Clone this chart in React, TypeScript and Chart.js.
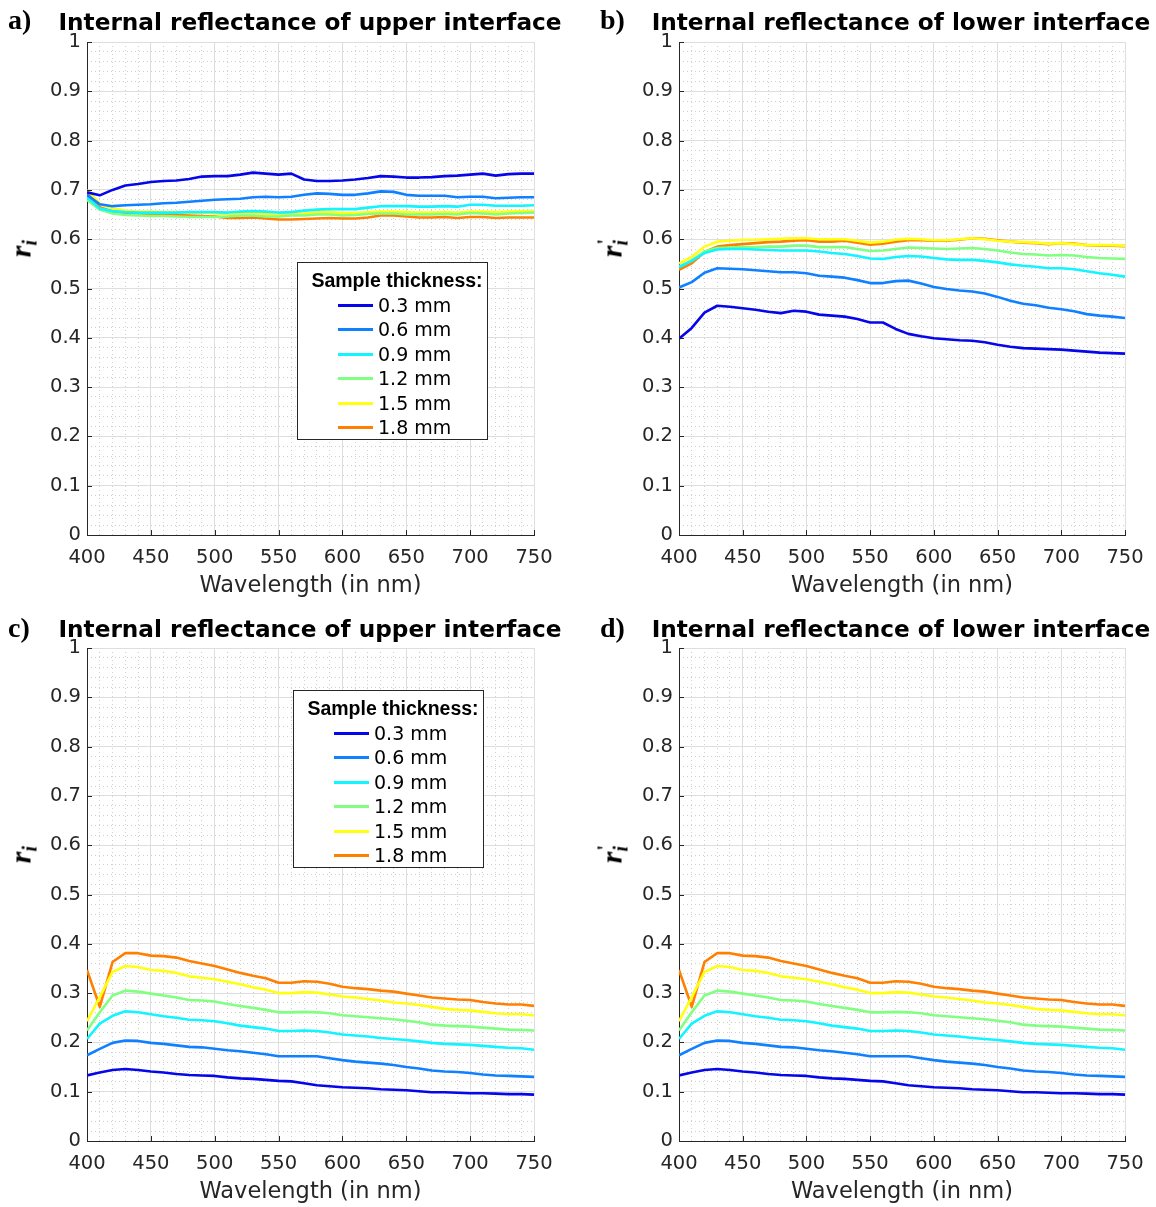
import React, { useEffect, useRef } from 'react';
import { Chart, registerables } from 'chart.js';

Chart.register(...registerables);

// ---------------- DATA ----------------
const WAVELENGTHS = [400, 410, 420, 430, 440, 450, 460, 470, 480, 490, 500, 510, 520, 530, 540, 550, 560, 570, 580, 590, 600, 610, 620, 630, 640, 650, 660, 670, 680, 690, 700, 710, 720, 730, 740, 750];
const THICKNESS_LABELS = ['0.3 mm', '0.6 mm', '0.9 mm', '1.2 mm', '1.5 mm', '1.8 mm'];
const X_TICKS = [400, 450, 500, 550, 600, 650, 700, 750];
const Y_TICKS = [0, 0.1, 0.2, 0.3, 0.4, 0.5, 0.6, 0.7, 0.8, 0.9, 1];

// a) upper interface (top row)
const A_03 = [0.695, 0.689, 0.700, 0.709, 0.712, 0.716, 0.718, 0.719, 0.722, 0.727, 0.728, 0.728, 0.731, 0.735, 0.733, 0.731, 0.733, 0.721, 0.718, 0.718, 0.719, 0.721, 0.724, 0.728, 0.727, 0.725, 0.725, 0.726, 0.728, 0.729, 0.731, 0.733, 0.729, 0.732, 0.733, 0.733];
const A_06 = [0.690, 0.671, 0.667, 0.669, 0.670, 0.671, 0.673, 0.674, 0.676, 0.678, 0.680, 0.681, 0.682, 0.685, 0.686, 0.685, 0.686, 0.690, 0.693, 0.692, 0.690, 0.690, 0.693, 0.697, 0.696, 0.690, 0.688, 0.688, 0.688, 0.685, 0.686, 0.686, 0.683, 0.684, 0.685, 0.685];
const A_09 = [0.685, 0.662, 0.657, 0.655, 0.654, 0.654, 0.654, 0.654, 0.655, 0.655, 0.655, 0.654, 0.656, 0.657, 0.656, 0.654, 0.655, 0.658, 0.660, 0.661, 0.661, 0.661, 0.664, 0.667, 0.667, 0.667, 0.666, 0.666, 0.667, 0.666, 0.670, 0.670, 0.668, 0.668, 0.668, 0.669];
const A_12 = [0.680, 0.660, 0.652, 0.649, 0.648, 0.647, 0.647, 0.646, 0.645, 0.645, 0.645, 0.646, 0.648, 0.648, 0.646, 0.646, 0.648, 0.648, 0.650, 0.650, 0.648, 0.649, 0.651, 0.652, 0.652, 0.650, 0.650, 0.650, 0.651, 0.650, 0.653, 0.652, 0.650, 0.652, 0.653, 0.654];
const A_15 = [0.700, 0.672, 0.662, 0.658, 0.656, 0.656, 0.655, 0.655, 0.654, 0.654, 0.652, 0.651, 0.652, 0.653, 0.651, 0.650, 0.651, 0.652, 0.654, 0.655, 0.653, 0.653, 0.655, 0.656, 0.656, 0.655, 0.654, 0.654, 0.655, 0.654, 0.656, 0.656, 0.655, 0.656, 0.657, 0.657];
const A_18 = [0.695, 0.665, 0.656, 0.653, 0.652, 0.651, 0.650, 0.649, 0.648, 0.647, 0.646, 0.643, 0.643, 0.644, 0.642, 0.640, 0.640, 0.641, 0.642, 0.643, 0.642, 0.642, 0.644, 0.648, 0.648, 0.646, 0.644, 0.644, 0.645, 0.643, 0.645, 0.645, 0.643, 0.644, 0.644, 0.644];

// b) lower interface (top row)
const B_03 = [0.398, 0.420, 0.451, 0.465, 0.463, 0.460, 0.457, 0.453, 0.450, 0.455, 0.453, 0.447, 0.445, 0.443, 0.438, 0.431, 0.431, 0.418, 0.408, 0.403, 0.399, 0.397, 0.395, 0.394, 0.391, 0.386, 0.382, 0.379, 0.378, 0.377, 0.376, 0.374, 0.372, 0.370, 0.369, 0.368];
const B_06 = [0.502, 0.513, 0.532, 0.541, 0.540, 0.539, 0.537, 0.535, 0.533, 0.533, 0.531, 0.526, 0.524, 0.522, 0.517, 0.511, 0.511, 0.515, 0.516, 0.510, 0.503, 0.499, 0.496, 0.494, 0.490, 0.483, 0.475, 0.469, 0.466, 0.461, 0.458, 0.454, 0.448, 0.445, 0.443, 0.440];
const B_09 = [0.543, 0.556, 0.572, 0.579, 0.580, 0.580, 0.579, 0.578, 0.577, 0.577, 0.577, 0.575, 0.572, 0.570, 0.566, 0.561, 0.560, 0.564, 0.566, 0.565, 0.562, 0.559, 0.558, 0.558, 0.556, 0.553, 0.549, 0.546, 0.544, 0.541, 0.541, 0.539, 0.535, 0.531, 0.528, 0.524];
const B_12 = [0.545, 0.557, 0.575, 0.582, 0.583, 0.584, 0.584, 0.585, 0.585, 0.587, 0.587, 0.584, 0.584, 0.584, 0.580, 0.576, 0.577, 0.580, 0.583, 0.582, 0.581, 0.580, 0.581, 0.582, 0.580, 0.577, 0.573, 0.570, 0.569, 0.567, 0.568, 0.567, 0.564, 0.562, 0.561, 0.560];
const B_15 = [0.551, 0.564, 0.585, 0.595, 0.597, 0.599, 0.599, 0.600, 0.601, 0.602, 0.602, 0.600, 0.600, 0.600, 0.597, 0.593, 0.595, 0.599, 0.601, 0.600, 0.598, 0.598, 0.600, 0.602, 0.600, 0.597, 0.595, 0.594, 0.593, 0.591, 0.592, 0.590, 0.588, 0.588, 0.588, 0.587];
const B_18 = [0.538, 0.551, 0.574, 0.585, 0.588, 0.590, 0.592, 0.594, 0.595, 0.597, 0.598, 0.595, 0.595, 0.597, 0.593, 0.589, 0.591, 0.595, 0.598, 0.598, 0.597, 0.597, 0.599, 0.602, 0.601, 0.598, 0.595, 0.593, 0.592, 0.590, 0.592, 0.591, 0.588, 0.587, 0.587, 0.586];

// c) upper interface (bottom row)
const C_03 = [0.133, 0.139, 0.144, 0.146, 0.144, 0.141, 0.139, 0.136, 0.134, 0.133, 0.132, 0.129, 0.127, 0.126, 0.124, 0.122, 0.121, 0.117, 0.113, 0.111, 0.109, 0.108, 0.107, 0.105, 0.104, 0.103, 0.101, 0.099, 0.099, 0.098, 0.097, 0.097, 0.096, 0.095, 0.095, 0.094];
const C_06 = [0.174, 0.187, 0.199, 0.204, 0.203, 0.199, 0.197, 0.194, 0.191, 0.190, 0.187, 0.184, 0.182, 0.179, 0.176, 0.172, 0.172, 0.172, 0.172, 0.168, 0.164, 0.161, 0.159, 0.157, 0.154, 0.150, 0.147, 0.143, 0.141, 0.140, 0.138, 0.135, 0.133, 0.132, 0.131, 0.130];
const C_09 = [0.207, 0.238, 0.254, 0.263, 0.261, 0.257, 0.253, 0.250, 0.246, 0.245, 0.243, 0.239, 0.234, 0.231, 0.228, 0.223, 0.223, 0.224, 0.223, 0.220, 0.216, 0.214, 0.212, 0.209, 0.207, 0.205, 0.202, 0.199, 0.197, 0.196, 0.195, 0.193, 0.191, 0.189, 0.188, 0.185];
const C_12 = [0.224, 0.261, 0.295, 0.305, 0.303, 0.299, 0.295, 0.291, 0.286, 0.285, 0.283, 0.278, 0.274, 0.270, 0.266, 0.261, 0.261, 0.262, 0.261, 0.259, 0.255, 0.253, 0.251, 0.249, 0.247, 0.244, 0.241, 0.236, 0.234, 0.233, 0.232, 0.230, 0.228, 0.226, 0.225, 0.224];
const C_15 = [0.243, 0.292, 0.343, 0.355, 0.353, 0.347, 0.345, 0.341, 0.334, 0.331, 0.328, 0.323, 0.318, 0.312, 0.307, 0.300, 0.300, 0.302, 0.301, 0.297, 0.293, 0.291, 0.288, 0.285, 0.281, 0.279, 0.276, 0.272, 0.268, 0.266, 0.265, 0.262, 0.259, 0.257, 0.257, 0.255];
const C_18 = [0.347, 0.272, 0.363, 0.381, 0.381, 0.376, 0.375, 0.372, 0.365, 0.360, 0.355, 0.348, 0.341, 0.335, 0.330, 0.321, 0.321, 0.324, 0.323, 0.319, 0.313, 0.310, 0.308, 0.305, 0.303, 0.299, 0.295, 0.291, 0.289, 0.287, 0.286, 0.282, 0.279, 0.277, 0.277, 0.274];

// d) lower interface (bottom row) - identical curves in the figure
const D_03 = C_03;
const D_06 = C_06;
const D_09 = C_09;
const D_12 = C_12;
const D_15 = C_15;
const D_18 = C_18;

// ---------------- STYLE ----------------
const SERIES_COLORS = ['#0606ea', '#0f80ff', '#12f4ff', '#80ff80', '#ffff14', '#ff8000'];
const AXIS_COLOR = '#262626';
const MAJOR_GRID = '#dedede';
const MINOR_GRID = '#cfcfcf';
const SANS = "'DejaVu Sans', Verdana, sans-serif";

const minorXTicks: number[] = [];
for (let v = 400; v <= 750; v += 10) minorXTicks.push(v);
const minorYTicks: number[] = [];
for (let k = 0; k <= 50; k++) minorYTicks.push(k / 50);

const inwardTicks = {
  id: 'inwardTicks',
  afterDraw(chart: any) {
    const { ctx, chartArea, scales } = chart;
    ctx.save();
    ctx.strokeStyle = AXIS_COLOR;
    ctx.lineWidth = 1;
    ctx.beginPath();
    scales.x.ticks.forEach((t: any) => {
      const px = Math.round(scales.x.getPixelForValue(t.value)) + 0.5;
      ctx.moveTo(px, chartArea.bottom);
      ctx.lineTo(px, chartArea.bottom - 5);
    });
    scales.y.ticks.forEach((t: any) => {
      const py = Math.round(scales.y.getPixelForValue(t.value)) + 0.5;
      ctx.moveTo(chartArea.left, py);
      ctx.lineTo(chartArea.left + 5, py);
    });
    ctx.stroke();
    ctx.restore();
  },
};

type PanelProps = {
  left: number;
  top: number;
  width: number;
  height: number;
  yAxisWidth: number;
  padRight: number;
  series: number[][];
};

function Panel({ left, top, width, height, yAxisWidth, padRight, series }: PanelProps) {
  const ref = useRef<HTMLCanvasElement>(null);
  useEffect(() => {
    const chart = new Chart(ref.current as HTMLCanvasElement, {
      type: 'line',
      data: {
        datasets: series.map((vals, i) => ({
          label: THICKNESS_LABELS[i],
          data: vals.map((v, j) => ({ x: WAVELENGTHS[j], y: v })),
          borderColor: SERIES_COLORS[i],
          backgroundColor: SERIES_COLORS[i],
          borderWidth: 2.6,
          pointRadius: 0,
          tension: 0,
          fill: false,
          borderJoinStyle: 'round',
          xAxisID: 'x',
          yAxisID: 'y',
        })),
      },
      options: {
        animation: false,
        responsive: false,
        devicePixelRatio: 1,
        layout: { padding: { top: 42, right: padRight, left: 0, bottom: 0 } },
        plugins: { legend: { display: false }, tooltip: { enabled: false }, title: { display: false } },
        scales: {
          xMinor: {
            type: 'linear',
            position: 'bottom',
            min: 400,
            max: 750,
            afterBuildTicks: (s: any) => { s.ticks = minorXTicks.map((v) => ({ value: v })); },
            ticks: { display: false },
            grid: {
              drawTicks: false,
              color: (c: any) => (c.tick && c.tick.value % 50 === 0 ? 'rgba(0,0,0,0)' : MINOR_GRID),
            },
            border: { display: false, dash: [1, 3] },
            afterFit: (s: any) => { s.height = 0; },
          },
          yMinor: {
            type: 'linear',
            position: 'left',
            min: 0,
            max: 1,
            afterBuildTicks: (s: any) => { s.ticks = minorYTicks.map((v) => ({ value: v })); },
            ticks: { display: false },
            grid: {
              drawTicks: false,
              color: (c: any) => {
                const v = c.tick ? c.tick.value * 10 : 0;
                return Math.abs(v - Math.round(v)) < 1e-6 ? 'rgba(0,0,0,0)' : MINOR_GRID;
              },
            },
            border: { display: false, dash: [1, 3] },
            afterFit: (s: any) => { s.width = 0; },
          },
          x: {
            type: 'linear',
            position: 'bottom',
            min: 400,
            max: 750,
            afterBuildTicks: (s: any) => { s.ticks = X_TICKS.map((v) => ({ value: v })); },
            ticks: {
              font: { family: SANS, size: 19.5 },
              color: AXIS_COLOR,
              padding: 11,
              maxRotation: 0,
              autoSkip: false,
              callback: (v: any) => String(v),
            },
            grid: { color: MAJOR_GRID, drawTicks: false },
            border: { color: AXIS_COLOR, width: 1 },
            title: {
              display: true,
              text: 'Wavelength (in nm)',
              font: { family: SANS, size: 22.5 },
              color: AXIS_COLOR,
              padding: { top: 0, bottom: 0 },
            },
            afterFit: (s: any) => { s.height = height - 535; },
          },
          y: {
            type: 'linear',
            position: 'left',
            min: 0,
            max: 1,
            afterBuildTicks: (s: any) => { s.ticks = Y_TICKS.map((v) => ({ value: v })); },
            ticks: {
              font: { family: SANS, size: 19.5 },
              color: AXIS_COLOR,
              padding: 6,
              autoSkip: false,
              callback: (v: any) => String(Math.round(v * 10) / 10),
            },
            grid: { color: MAJOR_GRID, drawTicks: false },
            border: { color: AXIS_COLOR, width: 1 },
            afterFit: (s: any) => { s.width = yAxisWidth; },
          },
        },
      } as any,
      plugins: [inwardTicks],
    } as any);
    return () => chart.destroy();
  }, []);
  return (
    <canvas
      ref={ref}
      width={width}
      height={height}
      style={{ position: 'absolute', left, top, width, height, display: 'block' }}
    />
  );
}

function CenterText({ cx, cy, children, style }: any) {
  return (
    <div
      style={{
        position: 'absolute',
        left: cx - 300,
        top: cy - 15,
        width: 600,
        height: 30,
        lineHeight: '30px',
        textAlign: 'center',
        whiteSpace: 'nowrap',
        ...style,
      }}
    >
      {children}
    </div>
  );
}

const TITLE_STYLE = { fontFamily: SANS, fontWeight: 'bold', fontSize: 23.2, color: '#000' };
const LABEL_STYLE = { fontFamily: "'Liberation Serif', 'Times New Roman', serif", fontWeight: 'bold', fontSize: 28, color: '#000' };

function PanelLetter({ x, cy, text }: { x: number; cy: number; text: string }) {
  return (
    <div style={{ position: 'absolute', left: x, top: cy - 16, height: 32, lineHeight: '32px', whiteSpace: 'nowrap', ...LABEL_STYLE }}>
      {text}
    </div>
  );
}

function YLabel({ cx, cy, prime }: { cx: number; cy: number; prime: boolean }) {
  return (
    <div
      style={{
        position: 'absolute',
        left: cx,
        top: cy,
        transform: 'translate(-50%, -50%) rotate(-90deg)',
        fontFamily: "'Liberation Serif', 'Times New Roman', serif",
        fontStyle: 'italic',
        fontWeight: 'bold',
        fontSize: 30,
        lineHeight: '32px',
        whiteSpace: 'nowrap',
        color: '#000',
      }}
    >
      r
      <span style={{ position: 'relative', display: 'inline-block', width: 9 }}>
        {prime ? (
          <span style={{ position: 'absolute', left: 1, top: -7, fontSize: 20, fontStyle: 'normal' }}>'</span>
        ) : null}
        <span style={{ fontSize: 20, position: 'relative', top: 6 }}>i</span>
      </span>
    </div>
  );
}

function LegendBox({ left, top }: { left: number; top: number }) {
  return (
    <div
      style={{
        position: 'absolute',
        left,
        top,
        width: 191,
        height: 178,
        boxSizing: 'border-box',
        border: `1px solid ${AXIS_COLOR}`,
        background: '#fff',
      }}
    >
      <div
        style={{
          position: 'absolute',
          left: 0,
          width: 198,
          top: 17 - 12,
          height: 24,
          lineHeight: '24px',
          textAlign: 'center',
          fontFamily: "'Liberation Sans', Arial, sans-serif",
          fontWeight: 'bold',
          fontSize: 19.5,
          whiteSpace: 'nowrap',
          color: '#000',
        }}
      >
        Sample thickness:
      </div>
      {THICKNESS_LABELS.map((lab, i) => {
        const cy = Math.round(42 + i * 24.4);
        return (
          <React.Fragment key={lab}>
            <div
              style={{
                position: 'absolute',
                left: 40,
                top: cy - 1,
                width: 35,
                height: 3,
                background: SERIES_COLORS[i],
              }}
            />
            <div
              style={{
                position: 'absolute',
                left: 80,
                top: cy - 12,
                height: 24,
                lineHeight: '24px',
                fontFamily: SANS,
                fontSize: 19,
                whiteSpace: 'nowrap',
                color: '#000',
              }}
            >
              {lab}
            </div>
          </React.Fragment>
        );
      })}
    </div>
  );
}

export default function App() {
  return (
    <div style={{ position: 'absolute', left: 0, top: 0, width: 1156, height: 1207, overflow: 'hidden', background: '#fff' }}>
      <Panel left={0} top={0} width={578} height={600} yAxisWidth={87} padRight={44} series={[A_03, A_06, A_09, A_12, A_15, A_18]} />
      <Panel left={578} top={0} width={578} height={600} yAxisWidth={101} padRight={31} series={[B_03, B_06, B_09, B_12, B_15, B_18]} />
      <Panel left={0} top={606} width={578} height={600} yAxisWidth={87} padRight={44} series={[C_03, C_06, C_09, C_12, C_15, C_18]} />
      <Panel left={578} top={606} width={578} height={600} yAxisWidth={101} padRight={31} series={[D_03, D_06, D_09, D_12, D_15, D_18]} />

      <CenterText cx={310} cy={22} style={TITLE_STYLE}>Internal reflectance of upper interface</CenterText>
      <CenterText cx={901} cy={22} style={TITLE_STYLE}>Internal reflectance of lower interface</CenterText>
      <CenterText cx={310} cy={629} style={TITLE_STYLE}>Internal reflectance of upper interface</CenterText>
      <CenterText cx={901} cy={629} style={TITLE_STYLE}>Internal reflectance of lower interface</CenterText>

      <PanelLetter x={8} cy={20} text="a)" />
      <PanelLetter x={600} cy={20} text="b)" />
      <PanelLetter x={8} cy={628} text="c)" />
      <PanelLetter x={600} cy={628} text="d)" />

      <YLabel cx={22} cy={247} prime={false} />
      <YLabel cx={613} cy={247} prime={true} />
      <YLabel cx={22} cy={853} prime={false} />
      <YLabel cx={613} cy={853} prime={true} />

      <LegendBox left={297} top={262} />
      <LegendBox left={293} top={690} />
    </div>
  );
}
